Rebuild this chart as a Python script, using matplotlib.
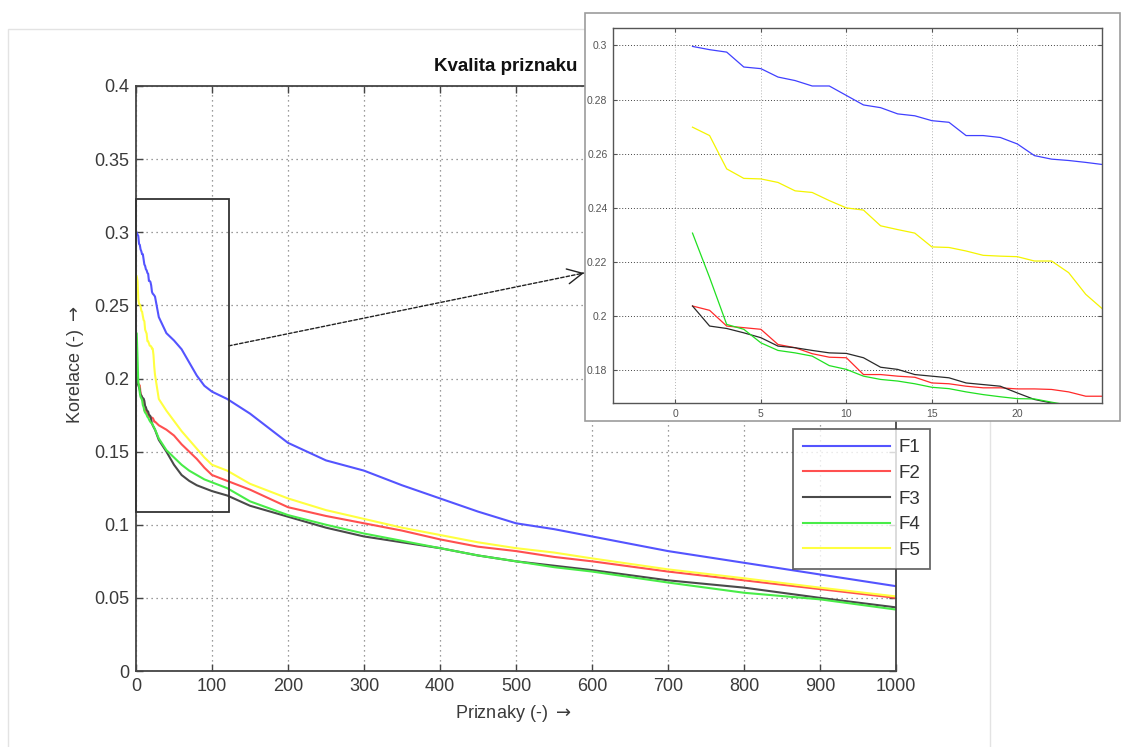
import matplotlib
matplotlib.use("Agg")
import numpy as np
import matplotlib.pyplot as plt
from matplotlib.patches import Rectangle
from matplotlib.ticker import FormatStrFormatter

plt.rcParams["font.family"] = ["Liberation Sans", "DejaVu Sans"]
plt.rcParams["mathtext.fontset"] = "dejavusans"

# ---- data: correlation of the ranked features for five feature sets ----
features = list(range(1, 26)) + [30, 40, 50, 60, 70, 80, 90, 100, 120, 150, 200,
                                 250, 300, 350, 400, 450, 500, 550, 600, 700,
                                 800, 900, 1000]

f1 = [0.2996, 0.2984, 0.2975, 0.2920, 0.2914, 0.2883, 0.2870, 0.2850, 0.2850,
      0.2815, 0.2780, 0.2770, 0.2747, 0.2740, 0.2722, 0.2716, 0.2667, 0.2667,
      0.2660, 0.2636, 0.2593, 0.2580, 0.2575, 0.2568, 0.2560,
      0.242, 0.231, 0.226, 0.220, 0.211, 0.202, 0.195, 0.191, 0.186, 0.176,
      0.156, 0.144, 0.137, 0.127, 0.118, 0.109, 0.101, 0.097, 0.092, 0.082,
      0.074, 0.066, 0.058]

f2 = [0.2038, 0.2022, 0.1964, 0.1958, 0.1952, 0.1896, 0.1884, 0.1862, 0.1849,
      0.1847, 0.1785, 0.1785, 0.1779, 0.1775, 0.1754, 0.1751, 0.1742, 0.1736,
      0.1736, 0.1732, 0.1732, 0.1730, 0.1721, 0.1705, 0.1705,
      0.168, 0.165, 0.161, 0.155, 0.150, 0.145, 0.139, 0.134, 0.130, 0.124,
      0.112, 0.106, 0.101, 0.096, 0.090, 0.085, 0.082, 0.078, 0.075, 0.068,
      0.062, 0.056, 0.050]

f3 = [0.2038, 0.1964, 0.1955, 0.1939, 0.1921, 0.1890, 0.1884, 0.1874, 0.1865,
      0.1863, 0.1847, 0.1812, 0.1804, 0.1785, 0.1779, 0.1773, 0.1754, 0.1748,
      0.1742, 0.1717, 0.1693, 0.1680, 0.1670, 0.1660, 0.1650,
      0.158, 0.150, 0.141, 0.134, 0.130, 0.127, 0.125, 0.123, 0.120, 0.113,
      0.1055, 0.098, 0.092, 0.088, 0.084, 0.079, 0.075, 0.072, 0.069, 0.062,
      0.057, 0.050, 0.0435]

f4 = [0.2307, 0.2143, 0.1970, 0.1952, 0.1902, 0.1874, 0.1865, 0.1853, 0.1818,
      0.1804, 0.1779, 0.1767, 0.1761, 0.1751, 0.1738, 0.1733, 0.1721, 0.1711,
      0.1703, 0.1696, 0.1695, 0.1683, 0.1672, 0.1662, 0.1652,
      0.159, 0.151, 0.146, 0.141, 0.137, 0.134, 0.131, 0.129, 0.125, 0.116,
      0.1066, 0.100, 0.094, 0.089, 0.084, 0.079, 0.075, 0.071, 0.068, 0.0605,
      0.0535, 0.049, 0.042]

f5 = [0.2698, 0.2667, 0.2544, 0.2509, 0.2507, 0.2494, 0.2463, 0.2457, 0.2427,
      0.2400, 0.2392, 0.2334, 0.2320, 0.2307, 0.2256, 0.2254, 0.2241, 0.2225,
      0.2222, 0.2220, 0.2204, 0.2204, 0.2161, 0.2081, 0.2026,
      0.186, 0.178, 0.171, 0.164, 0.158, 0.152, 0.146, 0.141, 0.137, 0.128,
      0.118, 0.110, 0.104, 0.098, 0.093, 0.088, 0.084, 0.081, 0.077, 0.0695,
      0.0634, 0.057, 0.051]

labels = ["F1", "F2", "F3", "F4", "F5"]
series = [f1, f2, f3, f4, f5]
main_colors = ["#5454ff", "#ff5050", "#4a4a4a", "#48ec48", "#ffff40"]
zoom_colors = ["#4040ff", "#ff2a2a", "#2a2a2a", "#20e020", "#f4f400"]

# zoomed window on the first features
zoom_x0, zoom_x1 = 0, 122
zoom_y0, zoom_y1 = 0.109, 0.323

W, H = 1121, 747
fig = plt.figure(figsize=(W / 100, H / 100), dpi=100)


def box(left, top, right, bottom):
    return [left / W, 1 - bottom / H, (right - left) / W, (bottom - top) / H]


# light frame of the main figure panel
fig.patches.append(Rectangle((8 / W, -0.02), (990 - 8) / W, 1.02 - 29 / H,
                             transform=fig.transFigure, fill=False,
                             ec="#e3e3e3", lw=1.0, zorder=0))

# ---- main axes ----
ax = fig.add_axes(box(136, 86, 896, 671), zorder=1)
for y, c, lab in zip(series, main_colors, labels):
    ax.plot(features, y, color=c, lw=1.5, label=lab)

ax.set_xlim(0, 1000)
ax.set_ylim(0, 0.4)
ax.set_xticks(np.arange(0, 1001, 100))
ax.set_yticks(np.arange(0, 0.401, 0.05))
ax.yaxis.set_major_formatter(FormatStrFormatter("%g"))
ax.grid(True, linestyle=(0, (1, 3)), color="#7c7c7c", lw=0.9)
ax.tick_params(direction="in", top=True, right=True, length=5, width=1,
               color="#444444", labelsize=13, labelcolor="#3a3a3a", pad=5)
for s in ax.spines.values():
    s.set_color("#444444")
    s.set_linewidth(1.3)

ax.add_patch(Rectangle((zoom_x0, zoom_y0), zoom_x1 - zoom_x0, zoom_y1 - zoom_y0,
                       fill=False, ec="#333333", lw=1.3, zorder=5, clip_on=False))

leg = ax.legend(loc="upper left", bbox_to_anchor=(793 / W, 1 - 429 / H),
                bbox_transform=fig.transFigure, frameon=True, fancybox=False,
                edgecolor="#444444", fontsize=13.5, handlelength=4.6,
                handletextpad=0.45, labelspacing=0.45, borderpad=0.55,
                borderaxespad=0)
leg.get_frame().set_linewidth(1.3)
for t in leg.get_texts():
    t.set_color("#333333")

fig.text(506 / W, 1 - 71 / H, "Kvalita priznaku", ha="center", va="baseline",
         fontsize=13.5, fontweight="bold", color="#111111")
fig.text(513 / W, 1 - 718 / H, r"Priznaky (-) $\rightarrow$", ha="center",
         va="baseline", fontsize=13, color="#3a3a3a")
fig.text(76 / W, 1 - 365 / H, r"Korelace (-) $\rightarrow$", ha="center",
         va="center", rotation=90, fontsize=13, color="#3a3a3a")

# dotted pointer from the zoom window to the detail panel
tip = np.array([584.0, H - 273.0])
start = ax.transData.transform((zoom_x1, 0.2223))
unit = (tip - start) / np.linalg.norm(tip - start)
ax.annotate("", xy=tuple(tip), xycoords="figure pixels",
            xytext=tuple(start), textcoords="figure pixels",
            arrowprops=dict(arrowstyle="-", linestyle=(0, (2.5, 1.5)), lw=1.0,
                            color="#222222", shrinkA=0, shrinkB=0),
            annotation_clip=False)
ax.annotate("", xy=tuple(tip), xycoords="figure pixels",
            xytext=tuple(tip - 4 * unit), textcoords="figure pixels",
            arrowprops=dict(arrowstyle="->,head_length=0.9,head_width=0.45",
                            lw=1.0, color="#222222", shrinkA=0, shrinkB=0,
                            mutation_scale=12),
            annotation_clip=False)

# ---- detail panel ----
fig.patches.append(Rectangle((585 / W, 1 - 421 / H), 535 / W, 408 / H,
                             transform=fig.transFigure, fc="white",
                             ec="#9c9c9c", lw=1.2, zorder=3))

ins = fig.add_axes(box(613, 28, 1102, 403), zorder=4)
for y, c in zip(series, zoom_colors):
    ins.plot(features, y, color=c, lw=0.9)
ins.set_xlim(-3.65, 24.95)
ins.set_ylim(0.168, 0.3064)
ins.set_xticks([0, 5, 10, 15, 20])
ins.set_yticks([0.18, 0.2, 0.22, 0.24, 0.26, 0.28, 0.3])
ins.yaxis.set_major_formatter(FormatStrFormatter("%g"))
ins.grid(True, axis="y", linestyle=(0, (1, 2)), color="#444444", lw=0.7)
ins.grid(True, axis="x", linestyle=(0, (1, 2)), color="#b4b4b4", lw=0.7)
ins.tick_params(direction="in", top=True, right=True, length=3, width=0.8,
                color="#555555", labelsize=7.5, labelcolor="#555555", pad=4)
for s in ins.spines.values():
    s.set_color("#555555")
    s.set_linewidth(1.0)

fig.savefig("out.png", dpi=100, facecolor="white")
